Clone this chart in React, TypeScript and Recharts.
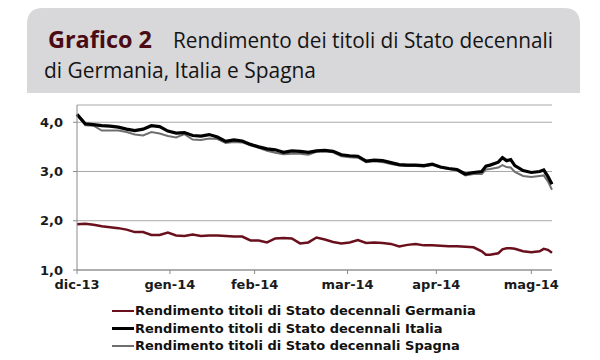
import { LineChart, Line, XAxis, YAxis, CartesianGrid, Legend } from 'recharts';

// trading-day index from the start of December 2013
const dayIndex = [
  0, 2, 4, 6, 8, 10, 12, 14, 16, 18, 20, 22, 24, 26, 28,
  30, 32, 34, 36, 38, 40, 42, 44, 46, 48, 50, 52, 54, 56,
  58, 60, 62, 64, 66, 68, 70, 72, 74, 76, 78, 80, 82, 84, 86,
  88, 90, 92, 94, 96,
  98, 99, 100, 102, 103, 104, 105, 106, 108, 110, 112, 113, 114, 115,
];

const germania = [
  1.93, 1.94, 1.92, 1.89, 1.87, 1.85, 1.82, 1.77, 1.77, 1.71, 1.71, 1.76, 1.70, 1.69, 1.72,
  1.69, 1.70, 1.70, 1.69, 1.68, 1.68, 1.60, 1.60, 1.56, 1.64, 1.65, 1.64, 1.54, 1.56,
  1.66, 1.62, 1.57, 1.54, 1.56, 1.61, 1.55, 1.56, 1.55, 1.53, 1.48, 1.51, 1.53, 1.50, 1.50,
  1.49, 1.48, 1.48, 1.47, 1.46,
  1.38, 1.31, 1.31, 1.34, 1.42, 1.44, 1.44, 1.43, 1.38, 1.36, 1.38, 1.43, 1.41, 1.35,
];

const italia = [
  4.16, 3.97, 3.95, 3.93, 3.92, 3.90, 3.86, 3.83, 3.86, 3.93, 3.91, 3.82, 3.78, 3.79, 3.73,
  3.72, 3.75, 3.70, 3.61, 3.64, 3.62, 3.55, 3.50, 3.46, 3.44, 3.39, 3.42, 3.41, 3.39,
  3.42, 3.43, 3.41, 3.34, 3.32, 3.31, 3.21, 3.23, 3.22, 3.18, 3.14, 3.13, 3.13, 3.12, 3.15,
  3.09, 3.06, 3.04, 2.95, 2.98,
  3.00, 3.11, 3.13, 3.19, 3.28, 3.22, 3.24, 3.12, 3.02, 2.98, 3.00, 3.03, 2.90, 2.74,
];

const spagna = [
  4.16, 3.94, 3.93, 3.83, 3.83, 3.83, 3.80, 3.75, 3.73, 3.80, 3.77, 3.72, 3.69, 3.76, 3.65,
  3.64, 3.67, 3.66, 3.58, 3.60, 3.59, 3.53, 3.48, 3.42, 3.38, 3.35, 3.36, 3.36, 3.34,
  3.40, 3.41, 3.39, 3.31, 3.29, 3.28, 3.19, 3.21, 3.19, 3.15, 3.12, 3.11, 3.11, 3.10, 3.13,
  3.08, 3.05, 3.02, 2.92, 2.95,
  2.95, 3.04, 3.05, 3.08, 3.13, 3.09, 3.08, 2.99, 2.91, 2.89, 2.91, 2.92, 2.80, 2.63,
];

const monthTicks = [0, 22.5, 43, 65.5, 87, 110];
const monthLabels = ['dic-13', 'gen-14', 'feb-14', 'mar-14', 'apr-14', 'mag-14'];
const yTicks = [1, 2, 3, 4];

const nameDE = 'Rendimento titoli di Stato decennali Germania';
const nameIT = 'Rendimento titoli di Stato decennali Italia';
const nameES = 'Rendimento titoli di Stato decennali Spagna';

const rows = dayIndex.map((t, i) => ({
  t,
  de: germania[i],
  it: italia[i],
  es: spagna[i],
}));

const axisFont = { fontFamily: 'DejaVu Sans', fontWeight: 700, fontSize: 13, fill: '#1a1a1a' };

const sampleWidth: Record<string, number> = { [nameDE]: 2, [nameIT]: 3, [nameES]: 2 };

function LegendRows({ payload }: any) {
  return (
    <div style={{ fontFamily: 'DejaVu Sans', fontWeight: 700, fontSize: 13, color: '#111' }}>
      {(payload || []).map((p: any) => (
        <div key={p.value} style={{ display: 'flex', alignItems: 'center', height: 17.5 }}>
          <span
            style={{
              display: 'inline-block',
              width: 22,
              height: sampleWidth[p.value] || 2,
              background: p.color,
              marginRight: 1,
            }}
          />
          <span style={{ whiteSpace: 'nowrap' }}>{p.value}</span>
        </div>
      ))}
    </div>
  );
}

export default function App() {
  return (
    <div style={{ position: 'absolute', left: 0, top: 0, width: 600, height: 360, background: '#fff' }}>
      <LineChart
        width={600}
        height={360}
        data={rows}
        margin={{ top: 105, right: 48, left: 0, bottom: 60 }}
      >
        <CartesianGrid horizontal vertical={false} stroke="#a8a8a8" strokeWidth={1} />
        <XAxis
          dataKey="t"
          type="number"
          domain={[0, 115]}
          ticks={monthTicks}
          tickFormatter={(v: number) => monthLabels[monthTicks.indexOf(v)] ?? ''}
          stroke="#8a8a8a"
          height={30}
          tickSize={4}
          tickMargin={6}
          tick={axisFont}
          interval={0}
        />
        <YAxis
          width={77}
          domain={[1, 4.35]}
          ticks={yTicks}
          tickFormatter={(v: number) => v.toFixed(1).replace('.', ',')}
          stroke="#8a8a8a"
          tickSize={4}
          tickMargin={10}
          tick={axisFont}
          allowDataOverflow
        />
        <Legend
          layout="vertical"
          align="center"
          verticalAlign="middle"
          content={<LegendRows />}
          wrapperStyle={{ left: 112, top: 302, width: 'auto', height: 'auto' }}
        />
        <Line
          dataKey="de"
          name={nameDE}
          stroke="#6a0f1c"
          strokeWidth={2.5}
          dot={false}
          isAnimationActive={false}
        />
        <Line
          dataKey="es"
          name={nameES}
          stroke="#6f6f6f"
          strokeWidth={2}
          dot={false}
          isAnimationActive={false}
        />
        <Line
          dataKey="it"
          name={nameIT}
          stroke="#000"
          strokeWidth={3.2}
          dot={false}
          isAnimationActive={false}
        />
      </LineChart>
      <svg
        width={600}
        height={100}
        style={{ position: 'absolute', left: 0, top: 0 }}
      >
        <path d="M27 93 L27 24 Q27 8 43 8 L564 8 Q580 8 580 24 L580 93 Z" fill="#d8d8da" />
        <text
          x={48}
          y={48}
          fontFamily="Open Sans"
          fontWeight={700}
          fontSize={24}
          fill="#4a0b14"
          textLength={104}
          lengthAdjust="spacingAndGlyphs"
        >
          Grafico 2
        </text>
        <text
          x={173}
          y={48}
          fontFamily="Open Sans"
          fontSize={21}
          fill="#141414"
          textLength={380}
          lengthAdjust="spacingAndGlyphs"
        >
          Rendimento dei titoli di Stato decennali
        </text>
        <text
          x={44}
          y={78}
          fontFamily="Open Sans"
          fontSize={21}
          fill="#141414"
          textLength={272}
          lengthAdjust="spacingAndGlyphs"
        >
          di Germania, Italia e Spagna
        </text>
      </svg>
    </div>
  );
}
